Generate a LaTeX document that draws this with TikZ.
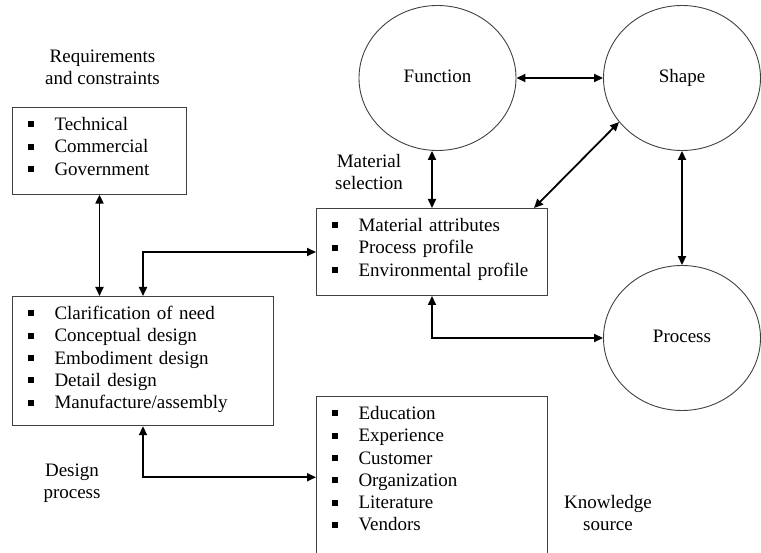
\documentclass[tikz,border=0pt]{standalone}
\usepackage{fontspec}
\setmainfont{Liberation Serif}
\usetikzlibrary{arrows.meta,shapes.geometric}
\newcommand{\bul}{\rule[3pt]{6pt}{6pt}\hspace{21pt}}
\begin{document}
\begin{tikzpicture}[x=1pt,y=-1pt,
					box/.style={draw=black!75, line width=1pt, anchor=north west, align=left, inner xsep=15pt, inner ysep=10pt, text height=13pt},
					blob/.style={draw=black!75, line width=0.9pt, ellipse, minimum width=157pt, minimum height=145pt, inner sep=0pt, text height=13pt, text depth=4pt},
					link/.style={line width=1.8pt, {Triangle[length=9pt,width=8pt]}-{Triangle[length=9pt,width=8pt]}}]
					\tikzstyle{every node}=[font=\fontsize{19}{22.3}\selectfont, text=black]
					
					\path[use as bounding box] (0,0) rectangle (761,553);
					\clip (0,0) rectangle (761,553);
					
					\node[box, text width=144pt, text depth=53.6pt] at (12,107) (req) {\bul Technical\\ \bul Commercial\\ \bul Government};
					\node[box, text width=201pt, text depth=54pt] at (316,208) (mat) {\bul Material attributes\\ \bul Process profile\\ \bul Environmental profile};
					\node[box, text width=231pt, text depth=96.2pt] at (12,296) (des) {\bul Clarification of need\\ \bul Conceptual design\\ \bul Embodiment design\\ \bul Detail design\\ \bul Manufacture/assembly};
					\node[box, text width=201pt, text depth=128.5pt] at (316,396) (kno) {\bul Education\\ \bul Experience\\ \bul Customer\\ \bul Organization\\ \bul Literature\\ \bul Vendors};
					
					\node[blob] at (437.5,78) (fun) {Function};
					\node[blob] at (682,78) (sha) {Shape};
					\node[blob] at (682,338) (pro) {Process};
					
					\node[align=center] at (102.5,67) (reqlab) {Requirements\\and constraints};
					\node[align=center] at (369,172) (matlab) {Material\\selection};
					\node[align=center] at (72,483) (deslab) {Design\\process};
					\node[align=center] at (608,513) (knolab) {Knowledge\\source};
					
					\draw[link] (fun) -- (sha);
					\draw[link] (mat.north) -- (mat.north |- fun.south);
					\draw[link] ([xshift=-14pt]mat.north east) -- (sha.215);
					\draw[link] (sha) -- (pro);
					\draw[link] (mat.south) |- (pro.west);
					\draw[link] (req.south) -- (req.south |- des.north);
					\draw[link] (des.north) |- (mat.west);
					\draw[link] (des.south) |- (kno.west);
					
				\end{tikzpicture}
\end{document}
